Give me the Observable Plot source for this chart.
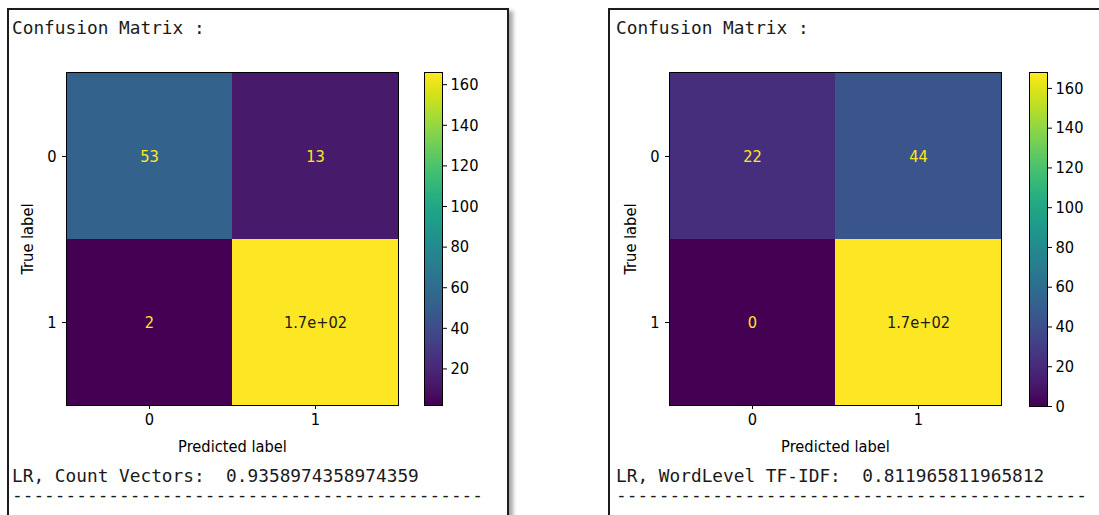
<!DOCTYPE html>
<html>
<head>
<meta charset="utf-8">
<script src="https://cdn.jsdelivr.net/npm/d3@7"></script>
<script src="https://cdn.jsdelivr.net/npm/@observablehq/plot@0.6"></script>
<style>
  html, body { margin: 0; padding: 0; background: #fff; overflow: hidden; }
  #root { position: relative; width: 1099px; height: 515px; overflow: hidden; background: #fff; }
  .panel { position: absolute; top: 8px; height: 530px; border: 2px solid #1c1c1c; box-sizing: border-box;
           background: #fff; box-shadow: 4px 3px 4px rgba(0,0,0,0.35); }
  .mono { position: absolute; font-family: "DejaVu Sans Mono", "Liberation Mono", monospace; font-size: 17.8px;
          color: #1a1a1a; white-space: pre; line-height: 1; }
  #root svg text { font-size: 16.3px !important; font-family: "DejaVu Sans Condensed", "DejaVu Sans", sans-serif !important; font-stretch: condensed; }
</style>
</head>
<body>
<div id="root"></div>
<script>
// ---- data ----
const classLabels = ["0", "1"];
const countVectorsMatrix = [[53, 13], [2, 166]];
const tfidfMatrix = [[22, 44], [0, 168]];
const countVectorsRange = [2, 166];
const tfidfRange = [0, 168];
const countVectorsTicks = [20, 40, 60, 80, 100, 120, 140, 160];
const tfidfTicks = [0, 20, 40, 60, 80, 100, 120, 140, 160];
const titleText = "Confusion Matrix :";
const resultTexts = ["LR, Count Vectors:  0.9358974358974359", "LR, WordLevel TF-IDF:  0.811965811965812"];
const dashLine = "-".repeat(44);

const root = document.getElementById("root");
const fmt = v => v < 100 ? String(v) : v.toExponential(1).replace(/e\+(\d)$/, "e+0$1");

function place(el, left, top) {
  el.style.position = "absolute";
  el.style.left = left + "px";
  el.style.top = top + "px";
  root.appendChild(el);
}

const baseStyle = {background: "transparent", fontFamily: "DejaVu Sans Condensed, DejaVu Sans, sans-serif", fontSize: "16.3px", color: "#000", overflow: "visible"};

function matrixPlot(m, range) {
  const cells = [];
  m.forEach((row, i) => row.forEach((v, j) => cells.push({t: classLabels[i], p: classLabels[j], value: v, label: fmt(v)})));
  const mid = (range[0] + range[1]) / 2;
  return Plot.plot({
    width: 410, height: 440,
    marginLeft: 66, marginRight: 12, marginTop: 32, marginBottom: 75,
    style: baseStyle,
    x: {domain: classLabels, padding: 0, tickSize: 4, tickPadding: 4, label: "Predicted label", labelAnchor: "center", labelOffset: 46},
    y: {domain: classLabels, padding: 0, tickSize: 4, tickPadding: 6, label: "True label", labelAnchor: "center", labelOffset: 45},
    color: {type: "linear", scheme: "viridis", domain: range},
    marks: [
      Plot.cell(cells, {x: "p", y: "t", fill: "value"}),
      Plot.text(cells.filter(d => d.value < mid), {x: "p", y: "t", text: "label", fill: "#fde725"}),
      Plot.text(cells.filter(d => d.value >= mid), {x: "p", y: "t", text: "label", fill: "#1a1a1a"}),
      Plot.frame({stroke: "#000"})
    ]
  });
}

function colorbarPlot(range, ticks, h) {
  const N = h;
  const step = (range[1] - range[0]) / N;
  const slices = d3.range(N).map(i => ({y1: range[0] + i * step, y2: range[0] + (i + 1) * step, v: range[0] + (i + 0.5) * step}));
  return Plot.plot({
    width: 90, height: 440,
    marginLeft: 9, marginRight: 90 - 27, marginTop: 32, marginBottom: 440 - 32 - h,
    style: baseStyle,
    x: {axis: null, padding: 0},
    y: {domain: range, axis: "right", ticks: ticks, tickSize: 4, tickPadding: 4, label: null},
    color: {type: "linear", scheme: "viridis", domain: range},
    marks: [
      Plot.barY(slices, {x: () => "c", y1: "y1", y2: "y2", fill: "v", shapeRendering: "crispEdges"}),
      Plot.frame({stroke: "#000"})
    ]
  });
}

function text(cls, str, left, top) {
  const d = document.createElement("div");
  d.className = cls;
  d.textContent = str;
  d.style.left = left + "px";
  d.style.top = top + "px";
  root.appendChild(d);
}

// panels
const p1 = document.createElement("div"); p1.className = "panel"; p1.style.left = "7px"; p1.style.width = "502px"; root.appendChild(p1);
const p2 = document.createElement("div"); p2.className = "panel"; p2.style.left = "608px"; p2.style.width = "520px"; root.appendChild(p2);

// left panel
text("mono", titleText, 12, 19);
place(matrixPlot(countVectorsMatrix, countVectorsRange), 0, 40);
place(colorbarPlot(countVectorsRange, countVectorsTicks, 333), 415, 40);
text("mono", resultTexts[0], 12, 467);
text("mono", dashLine, 12, 486);

// right panel
text("mono", titleText, 616, 19);
place(matrixPlot(tfidfMatrix, tfidfRange), 603, 40);
place(colorbarPlot(tfidfRange, tfidfTicks, 334), 1020, 40);
text("mono", resultTexts[1], 616, 467);
text("mono", dashLine, 616, 486);
</script>
</body>
</html>
